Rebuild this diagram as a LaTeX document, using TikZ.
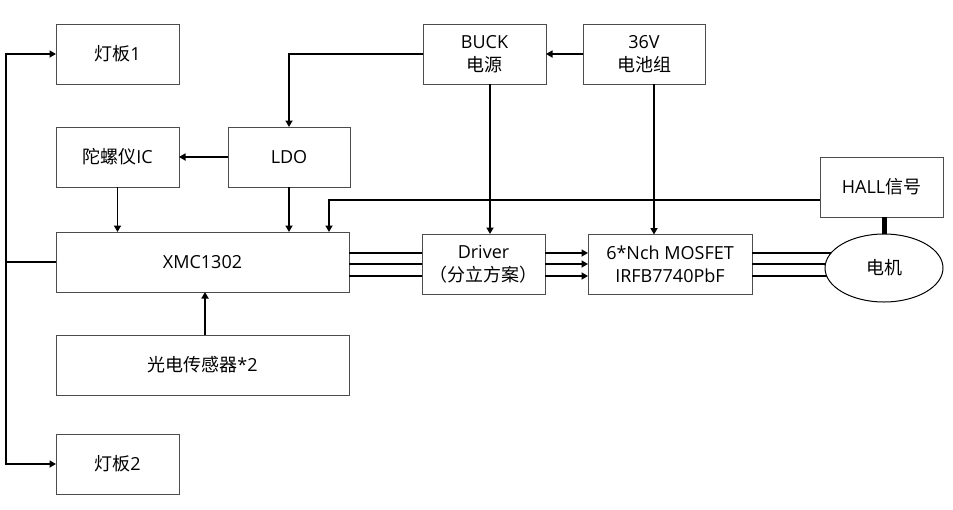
\documentclass[tikz,border=0pt]{standalone}
\usepackage{fontspec}
\setmainfont{Noto Sans CJK SC}
\newfontfamily\latfont{Open Sans}
\usetikzlibrary{arrows.meta,shapes.geometric}
\begin{document}
\begin{tikzpicture}[x=1pt,y=1pt,
  box/.style={draw=black!70, line width=1pt, inner sep=0pt, outer sep=0pt,
    minimum height=60pt, align=center, font=\fontsize{18}{23}\selectfont},
  conn/.style={line width=1.8pt},
  arr/.style={conn, -{Triangle[length=6.5pt,width=7pt]}}]
\useasboundingbox (0,0) rectangle (953,-509);

\node[box, minimum width=123pt] (d1) at (117.5,-54) {灯板{\latfont 1}};
\node[box, minimum width=123pt] (gyro) at (117.5,-157) {陀螺仪{\latfont IC}};
\node[box, minimum width=293pt] (xmc) at (202.5,-262) {\latfont XMC1302};
\node[box, minimum width=293pt] (opto) at (202.5,-365) {光电传感器{\latfont *2}};
\node[box, minimum width=123pt] (d2) at (117.5,-464) {灯板{\latfont 2}};
\node[box, minimum width=122pt] (ldo) at (289,-157) {\latfont LDO};
\node[box, minimum width=123pt] (buck) at (484.5,-54) {{\latfont BUCK}\\电源};
\node[box, minimum width=122pt] (bat) at (644,-54) {{\latfont 36V}\\电池组};
\node[box, minimum width=123pt] (hall) at (881.5,-187) {{\latfont HALL}信号};
\node[box, minimum width=123pt] (drv) at (483.5,-264) {{\latfont Driver}\\（分立方案）};
\node[box, minimum width=164pt] (mos) at (670,-264.5) {\latfont 6*Nch MOSFET\\\latfont IRFB7740PbF};
\node[draw=black, line width=1pt, ellipse, inner sep=0pt, outer sep=0pt,
  minimum width=118pt, minimum height=68pt,
  font=\fontsize{18}{23}\selectfont] (motor) at (884,-268) {电机};

% left bus
\draw[arr] (xmc.west) -- ++(-50,0) |- (d1.west);
\draw[arr] (xmc.west) -- ++(-50,0) |- (d2.west);

% power
\draw[arr] (bat.west) -- (buck.east);
\draw[arr] (buck.west) -| (ldo.north);
\draw[arr] ([xshift=5.5pt]buck.south) -- ([xshift=5.5pt]buck.south |- drv.north);
\draw[arr] ([xshift=10pt]bat.south) -- ([xshift=10pt]bat.south |- mos.north);
\draw[arr] (ldo.west) -- (gyro.east);
\draw[arr] (ldo.south) -- (ldo.south |- xmc.north);
\draw[arr] (gyro.south) -- (gyro.south |- xmc.north);
\draw[arr] ([xshift=2.5pt]opto.north) -- ([xshift=2.5pt]opto.north |- xmc.south);
\draw[arr] ([yshift=-13pt]hall.west) -| ([xshift=126.5pt]xmc.north);
\draw[line width=5pt] (motor.north |- hall.south) -- (motor.north);

% triple buses
\foreach \yy in {253,264,276}{
  \draw[conn] (xmc.east |- 0,-\yy) -- (drv.west |- 0,-\yy);
  \draw[arr] (drv.east |- 0,-\yy) -- (mos.west |- 0,-\yy);
}
\draw[conn] (mos.east |- 0,-253) -- (831,-253);
\draw[conn] (mos.east |- 0,-264) -- (825.5,-264);
\draw[conn] (mos.east |- 0,-276) -- (826.5,-276);
\end{tikzpicture}
\end{document}
